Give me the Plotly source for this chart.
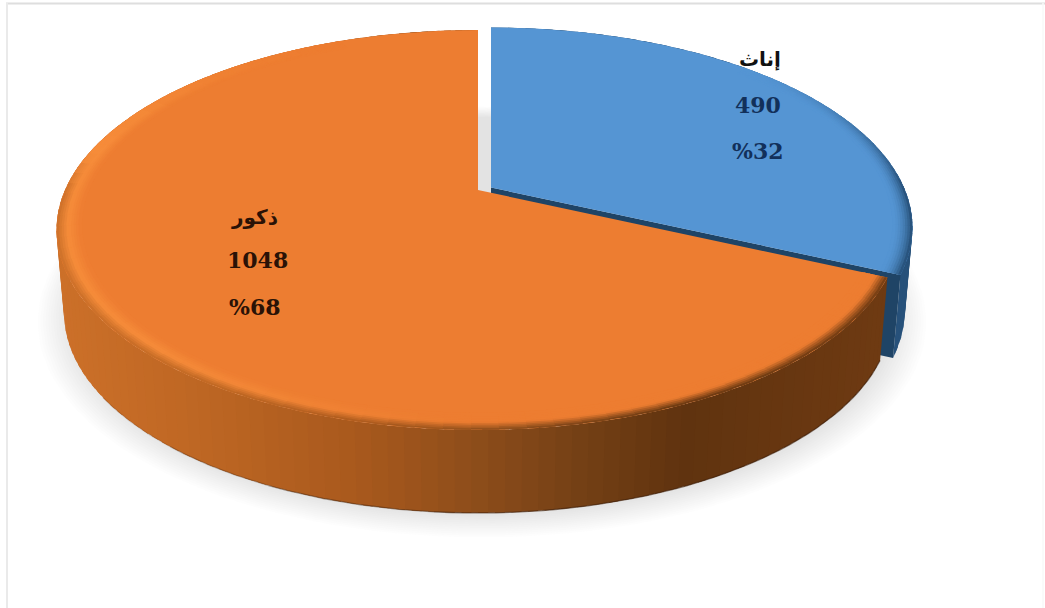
import math
import plotly.graph_objects as go

# ---- data ----
categories = ["إناث", "ذكور"]
counts = [490, 1048]
percent_labels = ["%32", "%68"]

# ---- styling ----
ORANGE = "#ED7D31"
ORANGE_LIT = "#F68C3A"
BLUE = "#5595D3"
BLUE_WALL = "#27517A"
BLUE_EDGE = "#1F4466"
ORANGE_WALL_STOPS = [(55, "#CC7029"), (200, "#BD6623"), (350, "#A9591D"), (480, "#8B4C1A"),
                     (580, "#733F15"), (680, "#60330F"), (880, "#6E3A12")]
APEX = (478.0, 190.0)      # projected pie centre
AX, BY, PERSP = 413.0, 192.0, 0.20
DEPTH = 83.0
BASE_SCALE = 0.982
BLUE_SHIFT = (13.0, -2.5)


def hex2rgb(c):
    return tuple(int(c[i:i + 2], 16) for i in (1, 3, 5))


def mix(a, b, t):
    t = min(1.0, max(0.0, t))
    ra, rb = hex2rgb(a), hex2rgb(b)
    return "#%02X%02X%02X" % tuple(round(ra[i] + (rb[i] - ra[i]) * t) for i in range(3))


def wall_colour(x):
    s = ORANGE_WALL_STOPS
    if x <= s[0][0]:
        return s[0][1]
    for (x0, c0), (x1, c1) in zip(s, s[1:]):
        if x <= x1:
            return mix(c0, c1, (x - x0) / (x1 - x0))
    return s[-1][1]


def project(theta, r=1.0, shift=(0.0, 0.0), base=False):
    """Perspective image of a disc point; theta is clockwise from 12 o'clock, in degrees."""
    t = math.radians(theta)
    u, v = r * math.sin(t), -r * math.cos(t)
    d = 1 - PERSP * v
    x = AX * u / d
    y = BY * v / d
    if base:
        x *= BASE_SCALE
        y += DEPTH
    return APEX[0] + x + shift[0], APEX[1] + y + shift[1]


def arc(a0, a1, n, r=1.0, shift=(0.0, 0.0), base=False):
    return [project(a0 + (a1 - a0) * i / n, r, shift, base) for i in range(n + 1)]


fig = go.Figure()


def poly(points, colour):
    xs = [p[0] for p in points] + [points[0][0]]
    ys = [p[1] for p in points] + [points[0][1]]
    fig.add_trace(go.Scatter(
        x=xs, y=ys, mode="lines", fill="toself", fillcolor=colour,
        line=dict(width=0), hoverinfo="skip", showlegend=False))


# angles are derived from the values
total = sum(counts)
blue_end = 360.0 * counts[0] / total

# soft cast shadow
for i in range(14):
    grow = 1.07 - i * 0.006
    a = arc(0, 360, 160, grow, (4.0, 3.0), True)
    fig.add_trace(go.Scatter(
        x=[p[0] for p in a], y=[p[1] for p in a], mode="lines", fill="toself",
        fillcolor="rgba(135,138,150,0.018)", line=dict(width=0),
        hoverinfo="skip", showlegend=False))

# --- blue slice ---
N_WALL = 40
for i in range(N_WALL):
    a0 = blue_end * i / N_WALL
    a1 = min(blue_end, blue_end * (i + 1.6) / N_WALL)
    p0, p1 = project(a0, 1, BLUE_SHIFT), project(a1, 1, BLUE_SHIFT)
    q0, q1 = project(a0, 1, BLUE_SHIFT, True), project(a1, 1, BLUE_SHIFT, True)
    poly([p0, p1, q1, q0], BLUE_WALL)
corner = project(blue_end, 1, BLUE_SHIFT)
corner_b = project(blue_end, 1, BLUE_SHIFT, True)
apex_b = project(0, 0, BLUE_SHIFT, True)
apex_t = project(0, 0, BLUE_SHIFT)
poly([apex_t, corner, corner_b, apex_b], BLUE_EDGE)

poly([apex_t] + arc(0, blue_end, 80, 1, BLUE_SHIFT), BLUE)
# darkened, blurred rim on the visible right-hand part of the blue top
N_LEVELS_B = 8
N_B = 36
for i in range(N_B):
    a0 = 45 + (blue_end - 45) * i / N_B
    a1 = min(blue_end, 45 + (blue_end - 45) * (i + 1.6) / N_B)
    mid = (a0 + a1) / 2
    fade = ((mid - 45) / 45) ** 1.5 if mid < 90 else 1.0
    for j in range(N_LEVELS_B):
        r0 = 1.0 - 0.0055 * j
        r1 = r0 - 0.0075
        t = 1 - j / N_LEVELS_B
        poly([project(a0, r0, BLUE_SHIFT), project(a1, r0, BLUE_SHIFT),
              project(a1, r1, BLUE_SHIFT), project(a0, r1, BLUE_SHIFT)],
             mix(BLUE, BLUE_WALL, 0.95 * t * t * min(1.0, fade)))

# --- orange slice ---
N_WALL = 130
step = (360 - blue_end) / N_WALL
for i in range(N_WALL):
    a0 = blue_end + step * i
    a1 = min(360.0, a0 + step * 1.6)
    p0, p1 = project(a0), project(a1)
    q0, q1 = project(a0, base=True), project(a1, base=True)
    poly([p0, p1, q1, q0], wall_colour((p0[0] + p1[0]) / 2))
# thin dark line along the bottom edge, fading out towards the left
line_ends = [(blue_end, 185, 0.6), (185, 205, 0.45), (205, 220, 0.3), (220, 235, 0.15)]
for e0, e1, alpha in line_ends:
    low = arc(e0, e1, 40, base=True)
    fig.add_trace(go.Scatter(x=[p[0] for p in low], y=[p[1] for p in low], mode="lines",
                             line=dict(color="rgba(60,30,10,%.2f)" % alpha, width=1.3),
                             hoverinfo="skip", showlegend=False))

poly([APEX] + arc(blue_end, 360, 140), ORANGE)
# lit, blurred rim along the front of the orange top
N_LEVELS = 10
R_OUT, R_LIT, R_IN = 1.0, 0.974, 0.945
N_R = 70
RIM_END = 335.0
step = (RIM_END - blue_end) / N_R
for i in range(N_R):
    a0 = blue_end + step * i
    a1 = a0 + step * 1.6
    mid = (a0 + a1) / 2
    px = project(mid)[0]
    side = wall_colour(px)
    lit = mix(ORANGE, ORANGE_LIT, (300 - px) / 300 + 0.45)
    side_amt = min(1.0, max(0.0, (282 - mid) / 12))
    lit_amt = min(1.0, max(0.0, (RIM_END - mid) / 50))
    lit = mix(ORANGE, lit, lit_amt)
    for j in range(N_LEVELS):
        r0 = R_OUT + (R_IN - R_OUT) * j / N_LEVELS
        r1 = R_OUT + (R_IN - R_OUT) * (j + 1.5) / N_LEVELS
        rc = (r0 + R_OUT + (R_IN - R_OUT) * (j + 1) / N_LEVELS) / 2
        if rc > R_LIT:
            t = (R_OUT - rc) / (R_OUT - R_LIT)
            c = mix(mix(lit, side, side_amt), lit, t)
        else:
            c = mix(lit, ORANGE, (R_LIT - rc) / (R_LIT - R_IN))
        poly([project(a0, r0), project(a1, r0), project(a1, r1), project(a0, r1)], c)

# --- labels ---
NUM_FONT = "DejaVu Serif"
AR_FONT = "DejaVu Sans"
cat_pos = [(760, 59), (254, 217)]
count_pos = [(758, 105), (257, 260)]
pct_pos = [(758, 151), (255, 307)]
cat_cols = ["#111111", "#2A1206"]
num_cols = ["#12305A", "#2A1206"]
for k in range(2):
    fig.add_annotation(x=cat_pos[k][0], y=cat_pos[k][1], text="<b>%s</b>" % categories[k], showarrow=False,
                       font=dict(family=AR_FONT, size=20, color=cat_cols[k]))
    fig.add_annotation(x=count_pos[k][0], y=count_pos[k][1], text="<b>%d</b>" % counts[k], showarrow=False,
                       font=dict(family=NUM_FONT, size=22, color=num_cols[k]))
    fig.add_annotation(x=pct_pos[k][0], y=pct_pos[k][1], text="<b>%s</b>" % percent_labels[k], showarrow=False,
                       font=dict(family=NUM_FONT, size=22, color=num_cols[k]))

fig.update_layout(
    width=1045, height=608, margin=dict(l=0, r=0, t=0, b=0),
    paper_bgcolor="white", plot_bgcolor="white", showlegend=False,
    xaxis=dict(range=[0, 1045], visible=False, fixedrange=True),
    yaxis=dict(range=[608, 0], visible=False, fixedrange=True),
    shapes=[
        dict(type="line", xref="x", yref="y", x0=6, x1=1045, y0=3.5, y1=3.5,
             line=dict(color="#DEDEDE", width=2), layer="below"),
        dict(type="line", xref="x", yref="y", x0=7, x1=7, y0=3, y1=608,
             line=dict(color="#EAEAEA", width=2), layer="below"),
        dict(type="line", xref="x", yref="y", x0=1043, x1=1043, y0=3, y1=608,
             line=dict(color="#F8F8F8", width=1.5), layer="below"),
    ],
)

fig.write_html("out.html", config=dict(displayModeBar=False),
               post_script="document.body.style.margin='0';document.body.style.overflow='hidden';")
